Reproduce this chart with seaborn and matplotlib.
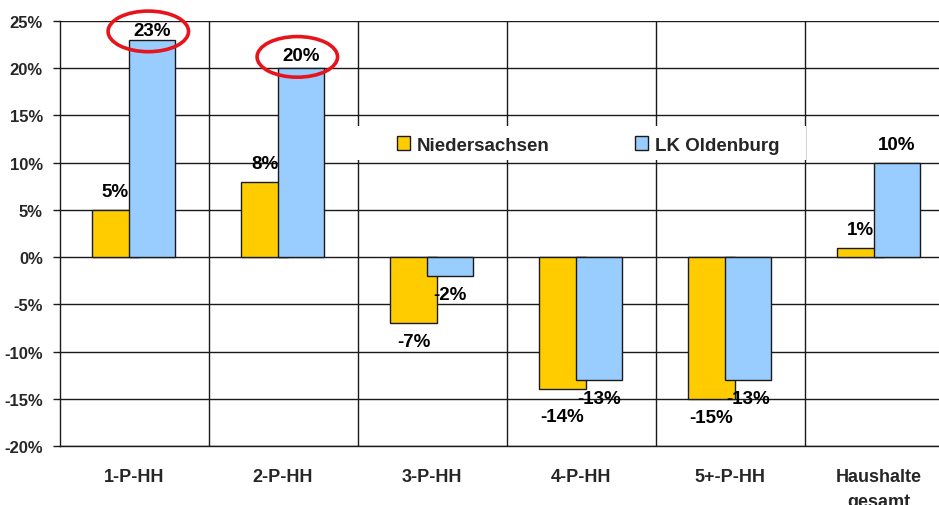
import matplotlib
matplotlib.use("Agg")
import matplotlib.pyplot as plt
from matplotlib.patches import Patch, Ellipse, Rectangle
import seaborn as sns
import pandas as pd

# Household change by size class
categories = ["1-P-HH", "2-P-HH", "3-P-HH", "4-P-HH", "5+-P-HH", "Haushalte\ngesamt"]
niedersachsen = [5, 8, -7, -14, -15, 1]
lk_oldenburg = [23, 20, -2, -13, -13, 10]
series_names = ["Niedersachsen", "LK Oldenburg"]
highlighted = ["1-P-HH", "2-P-HH"]  # LK Oldenburg values marked with a red ring
y_ticks = list(range(-20, 30, 5))

colors = ["#FFCC00", "#99CCFF"]
edge = "#1a1a1a"

sns.set_style("white")
plt.rcParams["font.family"] = ["Liberation Sans", "DejaVu Sans"]
plt.rcParams["font.weight"] = "bold"

fig = plt.figure(figsize=(9.39, 5.06), dpi=100)
W, H = 939, 506
ax = fig.add_axes([59.5 / W, (H - 447) / H, 894 / W, 425 / H])

bar_w = 0.31
offsets = [-0.124, 0.121]
df = pd.DataFrame({"cat": categories, series_names[0]: niedersachsen, series_names[1]: lk_oldenburg})

for s, (name, col, off) in enumerate(zip(series_names, colors, offsets)):
    n_before = len(ax.patches)
    sns.barplot(data=df, x="cat", y=name, color=col, width=bar_w, saturation=1,
                edgecolor=edge, linewidth=1.0, ax=ax, zorder=3 + s)
    for p in ax.patches[n_before:]:
        p.set_x(p.get_x() + off)
        p.set_zorder(3 + s)


def label_y(v, gap):
    y = v + (gap if v >= 0 else -gap)
    return min(y, 24.0)


# Value labels: just outside the bar end, kept inside the plot and apart from the neighbour
for i, cat in enumerate(categories):
    ring = cat in highlighted
    vb = lk_oldenburg[i]
    yb = label_y(vb, 1.3 if ring else 1.95)
    vy = niedersachsen[i]
    yy = label_y(vy, 1.95)
    if abs(yy - yb) < 1.9:
        yy = yb - 1.9 if vy < 0 else yb + 1.9
    for x, y, v in ((i + offsets[0], yy, vy), (i + offsets[1], yb, vb)):
        ax.text(x, y, f"{v}%", ha="center", va="center", fontsize=13.5,
                fontweight="bold", color="black", zorder=6)
    if ring:
        ax.add_patch(Ellipse((i + offsets[1] - 0.025, yb - 0.1), 0.54, 4.3, fill=False,
                             edgecolor="#E8141B", linewidth=2.6, clip_on=False, zorder=7))

ax.set_xlim(-0.5, len(categories) - 0.5)
ax.set_ylim(-20, 25)
ax.set_yticks(y_ticks)
ax.set_yticklabels([f"{t}%" for t in y_ticks], fontsize=12, fontweight="bold")
ax.set_xticks(range(len(categories)))
ax.set_xticklabels(categories, fontsize=13, fontweight="bold", va="top", linespacing=1.6)
ax.set_xticks([i + 0.5 for i in range(len(categories) - 1)], minor=True)
ax.set_xlabel("")
ax.set_ylabel("")

ax.set_axisbelow(True)
ax.grid(axis="y", which="major", color="#1a1a1a", linewidth=1.0)
ax.grid(axis="x", which="minor", color="#1a1a1a", linewidth=1.0)
ax.grid(axis="x", which="major", visible=False)
ax.tick_params(axis="y", which="major", length=5, width=1, color="#1a1a1a", pad=7, left=True)
ax.tick_params(axis="x", which="both", length=0, pad=16)

for side in ("top", "right"):
    ax.spines[side].set_visible(False)
for side in ("left", "bottom"):
    ax.spines[side].set_visible(True)
    ax.spines[side].set_color("#1a1a1a")
    ax.spines[side].set_linewidth(1.0)

# White panel behind the legend that interrupts the grid
ax.add_patch(Rectangle((352 / W, 1 - 161 / H), (806 - 352) / W, 34 / H,
                       transform=fig.transFigure, facecolor="white", edgecolor="none",
                       zorder=1, clip_on=False))

handles = [Patch(facecolor=c, edgecolor=edge, linewidth=1.0) for c in colors]
leg = ax.legend(handles, series_names, ncol=2, loc="center",
                bbox_to_anchor=(588 / W, 1 - 146 / H), bbox_transform=fig.transFigure,
                frameon=False, prop={"size": 13.5, "weight": "bold"},
                handlelength=0.7, handleheight=0.7, handletextpad=0.35,
                columnspacing=4.6, borderaxespad=0)
leg.set_zorder(8)

fig.savefig("out.png", dpi=100)
